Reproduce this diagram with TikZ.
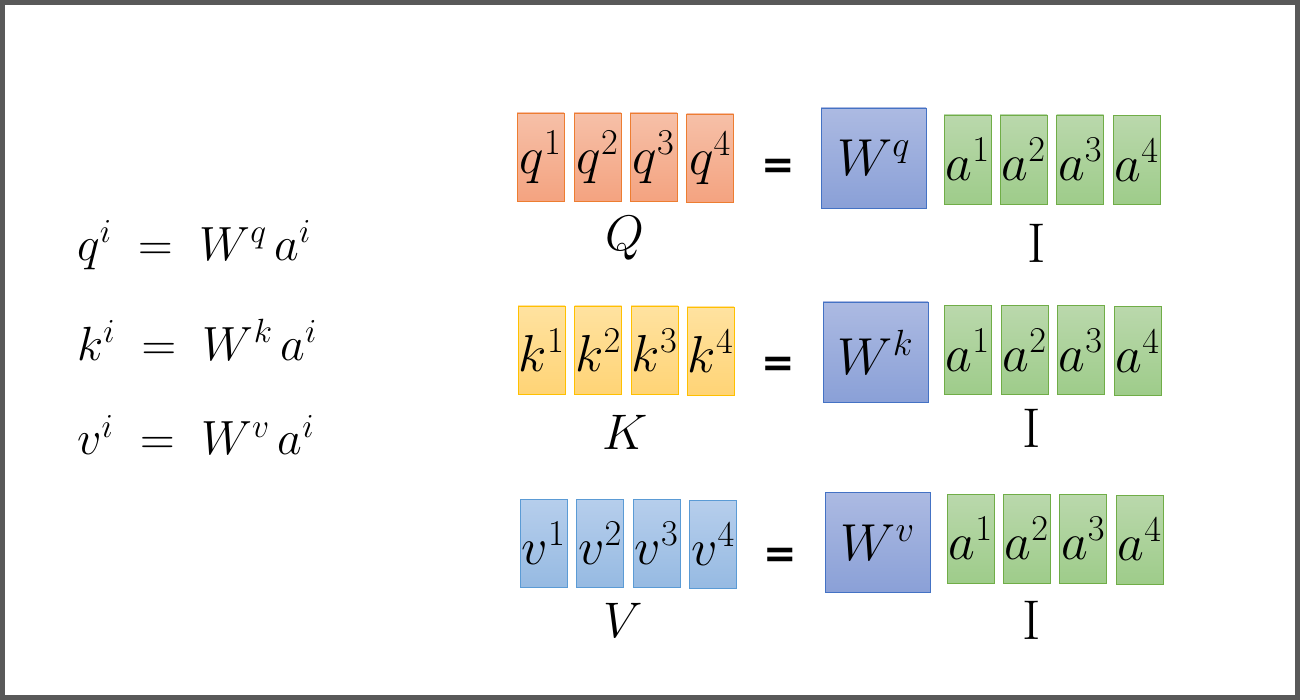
\RequirePackage{fix-cm}
\documentclass[tikz,border=0pt]{standalone}
\usepackage{fontspec}
\newfontfamily\eqfont{DejaVu Sans}
\definecolor{qtop}{RGB}{246,192,168}
\definecolor{qbot}{RGB}{244,163,128}
\definecolor{qline}{RGB}{237,125,49}
\definecolor{ktop}{RGB}{255,226,160}
\definecolor{kbot}{RGB}{255,212,118}
\definecolor{kline}{RGB}{255,192,0}
\definecolor{vtop}{RGB}{182,206,236}
\definecolor{vbot}{RGB}{150,186,226}
\definecolor{vline}{RGB}{91,155,213}
\definecolor{wtop}{RGB}{172,186,226}
\definecolor{wbot}{RGB}{138,160,215}
\definecolor{wline}{RGB}{68,114,196}
\definecolor{atop}{RGB}{186,216,172}
\definecolor{abot}{RGB}{158,204,138}
\definecolor{aline}{RGB}{112,173,71}
\definecolor{frame}{RGB}{89,89,89}
\tikzset{
  cell/.style={rectangle, minimum width=47pt, minimum height=88pt, inner sep=0pt, line width=0.9pt, font=\fontsize{52}{58}\selectfont},
  qcell/.style={cell, draw=qline, top color=qtop, bottom color=qbot},
  kcell/.style={cell, draw=kline, top color=ktop, bottom color=kbot},
  vcell/.style={cell, draw=vline, top color=vtop, bottom color=vbot},
  acell/.style={cell, draw=aline, top color=atop, bottom color=abot, minimum height=89pt},
  wbox/.style={rectangle, minimum width=105pt, minimum height=100pt, inner sep=0pt, line width=0.9pt, draw=wline, top color=wtop, bottom color=wbot, font=\fontsize{52}{58}\selectfont},
  biglabel/.style={inner sep=0pt, font=\fontsize{50}{56}\selectfont},
  ilabel/.style={inner sep=0pt, font=\fontsize{56}{60}\selectfont},
  eqsign/.style={inner sep=0pt, font=\eqfont\bfseries\fontsize{40}{42}\selectfont},
  lefteq/.style={inner sep=0pt, anchor=west, font=\fontsize{48}{52}\selectfont}
}
\begin{document}
\begin{tikzpicture}[x=1pt,y=-1pt]
\useasboundingbox (0,0) rectangle (1300,700);
\fill[white] (0,0) rectangle (1300,700);
\draw[frame, line width=5pt] (2.5,2.5) rectangle (1297.5,697.5);

% left equations
\node[lefteq] (e1) at (77,245) {$q^{i}\;=\;W^{q}\,a^{i}$};
\node[lefteq] (e2) at (77,340) {$k^{i}\;=\;W^{k}\,a^{i}$};
\node[lefteq] (e3) at (77,435) {$v^{i}\;=\;W^{v}\,a^{i}$};

% Q row
\node[qcell] (q1) at (540.5,157) {$q^{1}$};
\node[qcell] (q2) at (597.5,157) {$q^{2}$};
\node[qcell] (q3) at (653.5,157) {$q^{3}$};
\node[qcell] (q4) at (710,158) {$q^{4}$};
\node[biglabel] (Q) at (625,238) {$Q$};
\node[eqsign] (eq1) at (778,169) {=};
\node[wbox] (Wq) at (873.5,158) {$W^{q}$};
\node[acell] (a11) at (967.5,159.5) {$a^{1}$};
\node[acell] (a12) at (1023.5,159.5) {$a^{2}$};
\node[acell] (a13) at (1080,159.5) {$a^{3}$};
\node[acell] (a14) at (1136.5,160) {$a^{4}$};
\node[ilabel] (I1) at (1037,243) {$\mathrm{I}$};

% K row
\node[kcell] (k1) at (541.5,350) {$k^{1}$};
\node[kcell] (k2) at (598,350) {$k^{2}$};
\node[kcell] (k3) at (654.5,350) {$k^{3}$};
\node[kcell] (k4) at (710.5,351) {$k^{4}$};
\node[biglabel] (K) at (625,432) {$K$};
\node[eqsign] (eq2) at (778,367) {=};
\node[wbox] (Wk) at (875.5,352) {$W^{k}$};
\node[acell] (a21) at (967.5,350) {$a^{1}$};
\node[acell] (a22) at (1024.5,350) {$a^{2}$};
\node[acell] (a23) at (1080.5,350) {$a^{3}$};
\node[acell] (a24) at (1137.5,351) {$a^{4}$};
\node[ilabel] (I2) at (1032,428) {$\mathrm{I}$};

% V row
\node[vcell] (v1) at (543.5,543.5) {$v^{1}$};
\node[vcell] (v2) at (600,543.5) {$v^{2}$};
\node[vcell] (v3) at (656.5,543.5) {$v^{3}$};
\node[vcell] (v4) at (713,544.5) {$v^{4}$};
\node[biglabel] (V) at (623,620) {$V$};
\node[eqsign] (eq3) at (780,558) {=};
\node[wbox] (Wv) at (877.5,542.5) {$W^{v}$};
\node[acell] (a31) at (970.5,538.5) {$a^{1}$};
\node[acell] (a32) at (1026.5,538.5) {$a^{2}$};
\node[acell] (a33) at (1083,538.5) {$a^{3}$};
\node[acell] (a34) at (1139.5,539.5) {$a^{4}$};
\node[ilabel] (I3) at (1032,620) {$\mathrm{I}$};
\end{tikzpicture}
\end{document}
